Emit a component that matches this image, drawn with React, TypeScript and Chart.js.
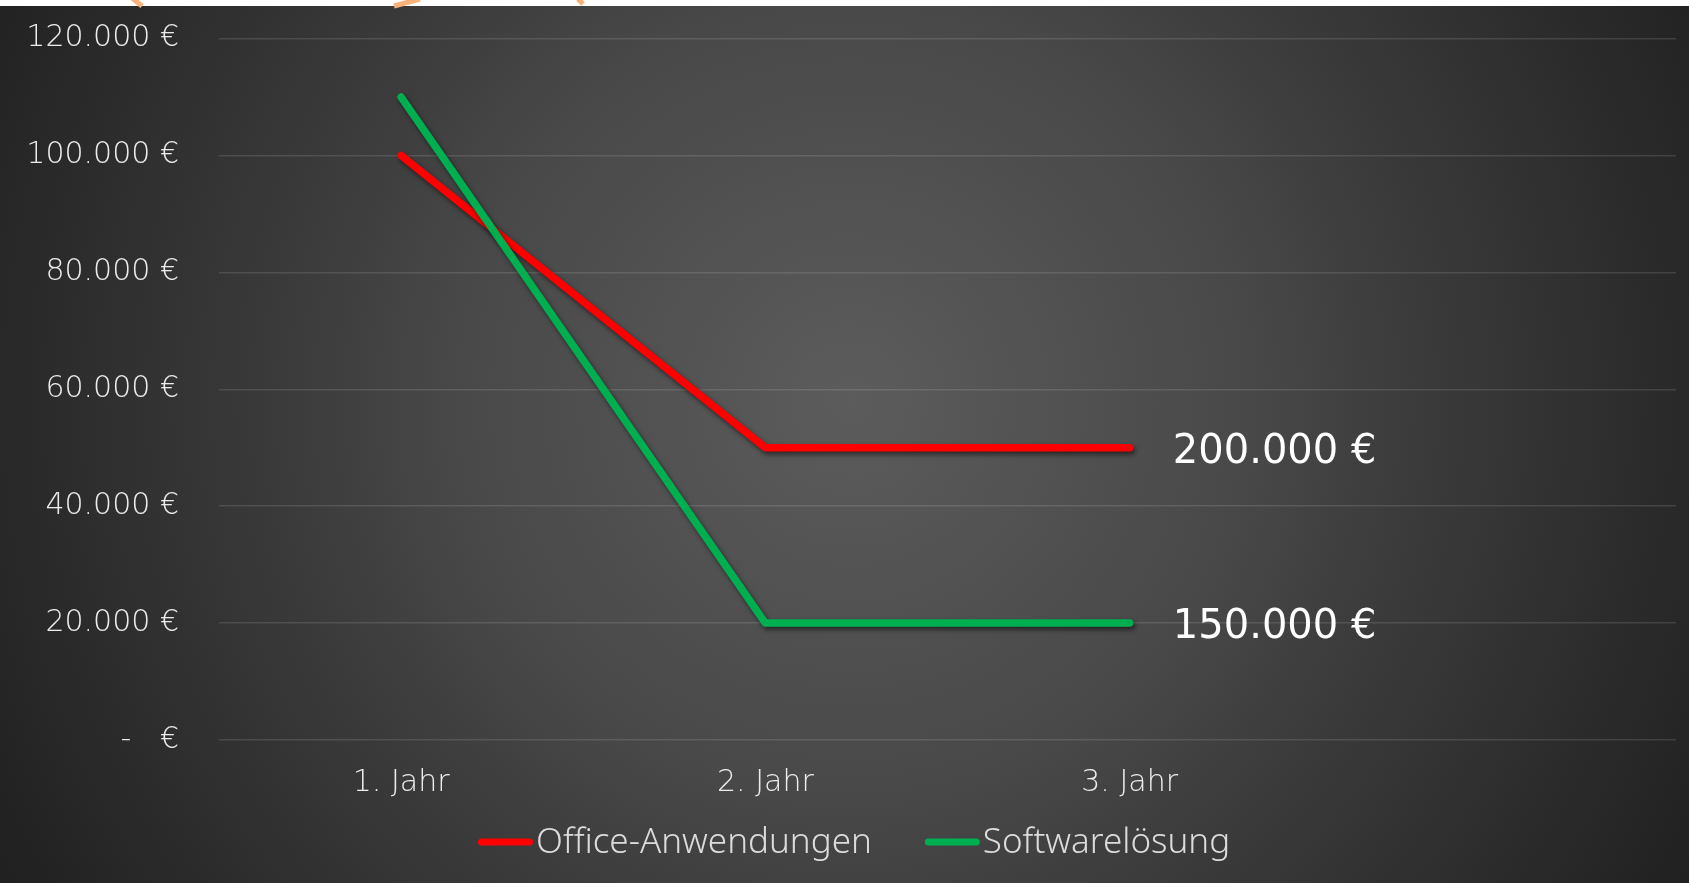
import React, { useEffect, useRef } from 'react';
import { Chart, registerables } from 'chart.js';

Chart.register(...registerables);

const categories = ['1. Jahr', '2. Jahr', '3. Jahr', ''];
const seriesNames = ['Office-Anwendungen', 'Softwarelösung'];
const officeValues = [100000, 50000, 50000, null];
const softwareValues = [110000, 20000, 20000, null];
const seriesColors = ['#FF0000', '#00B050'];
const yTicks = [0, 20000, 40000, 60000, 80000, 100000, 120000];

const W = 1689;
const H = 883;

function fmtEuro(v: number): string {
  if (v === 0) return '-   €';
  return String(v).replace(/\B(?=(\d{3})+(?!\d))/g, '.') + ' €';
}

const bgPlugin = {
  id: 'bgPlugin',
  beforeDraw(chart: any) {
    const ctx = chart.ctx;
    const w = chart.width;
    const h = chart.height;
    ctx.save();
    ctx.fillStyle = '#ffffff';
    ctx.fillRect(0, 0, w, h);
    const g = ctx.createRadialGradient(850, 400, 0, 850, 400, 960);
    g.addColorStop(0, '#5c5c5c');
    g.addColorStop(0.42, '#484848');
    g.addColorStop(0.56, '#3d3d3d');
    g.addColorStop(0.82, '#2c2c2c');
    g.addColorStop(1, '#212121');
    ctx.fillStyle = g;
    ctx.fillRect(0, 6, w, h - 6);
    // small orange fragments in the white strip
    ctx.strokeStyle = '#f8b27a';
    ctx.lineWidth = 5;
    ctx.lineCap = 'butt';
    ctx.beginPath();
    ctx.moveTo(132, -2);
    ctx.lineTo(142, 6);
    ctx.moveTo(420, -1);
    ctx.lineTo(394, 6);
    ctx.moveTo(578, -1);
    ctx.lineTo(583, 4);
    ctx.stroke();
    ctx.restore();
  },
};

const shadowPlugin = {
  id: 'shadowPlugin',
  beforeDatasetsDraw(chart: any) {
    const ctx = chart.ctx;
    ctx.save();
    ctx.shadowColor = 'rgba(0,0,0,0.55)';
    ctx.shadowBlur = 5;
    ctx.shadowOffsetX = 2;
    ctx.shadowOffsetY = 3;
  },
  afterDatasetsDraw(chart: any) {
    chart.ctx.restore();
  },
};

const totalsPlugin = {
  id: 'totalsPlugin',
  afterDatasetsDraw(chart: any) {
    const ctx = chart.ctx;
    ctx.save();
    ctx.font = "40px 'DejaVu Sans'";
    ctx.fillStyle = '#ffffff';
    ctx.textAlign = 'center';
    ctx.textBaseline = 'middle';
    chart.data.datasets.forEach((ds: any, i: number) => {
      const meta = chart.getDatasetMeta(i);
      let last = -1;
      let sum = 0;
      ds.data.forEach((v: any, j: number) => {
        if (v !== null && v !== undefined) {
          last = j;
          sum += v;
        }
      });
      if (last < 0) return;
      const pt = meta.data[last];
      ctx.fillText(fmtEuro(sum), pt.x + 145, pt.y + 5);
    });
    ctx.restore();
  },
};

const legendPlugin = {
  id: 'legendPlugin',
  afterDraw(chart: any) {
    const ctx = chart.ctx;
    ctx.save();
    ctx.font = "300 35px 'Noto Sans'";
    ctx.textAlign = 'left';
    ctx.textBaseline = 'alphabetic';
    let x = 478;
    const y = 842;
    chart.data.datasets.forEach((ds: any) => {
      ctx.strokeStyle = ds.borderColor;
      ctx.lineWidth = 7;
      ctx.lineCap = 'round';
      ctx.beginPath();
      ctx.moveTo(x + 3.5, y);
      ctx.lineTo(x + 51.5, y);
      ctx.stroke();
      ctx.fillStyle = '#dcdcdc';
      ctx.fillText(ds.label, x + 58, y + 11);
      const tw = ctx.measureText(ds.label).width;
      x += 58 + tw + 53;
    });
    ctx.restore();
  },
};

export default function App() {
  const canvasRef = useRef<HTMLCanvasElement | null>(null);

  useEffect(() => {
    const canvas = canvasRef.current;
    if (!canvas) return;
    const tickFont = { family: "'DejaVu Sans'", size: 30, weight: 200 as any };
    const chart = new Chart(canvas, {
      type: 'line',
      data: {
        labels: categories,
        datasets: [
          {
            label: seriesNames[0],
            data: officeValues,
            borderColor: seriesColors[0],
            backgroundColor: seriesColors[0],
            borderWidth: 7.5,
            borderCapStyle: 'round',
            borderJoinStyle: 'round',
            pointRadius: 0,
            fill: false,
            tension: 0,
            order: 1,
          },
          {
            label: seriesNames[1],
            data: softwareValues,
            borderColor: seriesColors[1],
            backgroundColor: seriesColors[1],
            borderWidth: 7.5,
            borderCapStyle: 'round',
            borderJoinStyle: 'round',
            pointRadius: 0,
            fill: false,
            tension: 0,
            order: 0,
          },
        ],
      },
      options: {
        animation: false,
        responsive: false,
        maintainAspectRatio: false,
        devicePixelRatio: 1,
        layout: { padding: { top: 38.6, right: 13, bottom: 0, left: 0 } },
        plugins: {
          legend: { display: false },
          tooltip: { enabled: false },
        },
        scales: {
          x: {
            offset: true,
            grid: { display: false },
            border: { display: false },
            ticks: {
              color: '#ececec',
              font: tickFont,
              padding: 17,
              maxRotation: 0,
              autoSkip: false,
            },
            afterFit: (s: any) => {
              s.height = 143;
            },
          },
          y: {
            min: 0,
            max: 120000,
            grid: { color: 'rgba(255,255,255,0.12)', lineWidth: 1.5, drawTicks: false },
            border: { display: false },
            ticks: {
              color: '#ececec',
              font: tickFont,
              padding: 40,
              callback: (v: any) => fmtEuro(Number(v)),
            },
            afterBuildTicks: (s: any) => {
              s.ticks = yTicks.map((v) => ({ value: v }));
            },
            afterFit: (s: any) => {
              s.width = 219;
              s.paddingTop = 0;
              s.paddingBottom = 0;
            },
          },
        },
      } as any,
      plugins: [bgPlugin, shadowPlugin, totalsPlugin, legendPlugin],
    });
    return () => chart.destroy();
  }, []);

  return (
    <div style={{ position: 'fixed', left: 0, top: 0, width: W, height: H, overflow: 'hidden' }}>
      <canvas ref={canvasRef} width={W} height={H} style={{ display: 'block', width: W, height: H }} />
    </div>
  );
}
